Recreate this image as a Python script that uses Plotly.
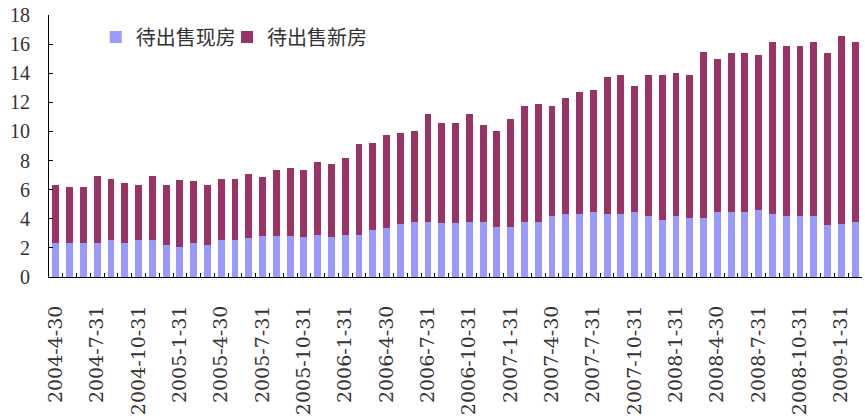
import plotly.graph_objects as go

categories = [
    "2004-4-30", "2004-5-31", "2004-6-30", "2004-7-31", "2004-8-31", "2004-9-30",
    "2004-10-31", "2004-11-30", "2004-12-31",
    "2005-1-31", "2005-2-28", "2005-3-31", "2005-4-30", "2005-5-31", "2005-6-30",
    "2005-7-31", "2005-8-31", "2005-9-30", "2005-10-31", "2005-11-30", "2005-12-31",
    "2006-1-31", "2006-2-28", "2006-3-31", "2006-4-30", "2006-5-31", "2006-6-30",
    "2006-7-31", "2006-8-31", "2006-9-30", "2006-10-31", "2006-11-30", "2006-12-31",
    "2007-1-31", "2007-2-28", "2007-3-31", "2007-4-30", "2007-5-31", "2007-6-30",
    "2007-7-31", "2007-8-31", "2007-9-30", "2007-10-31", "2007-11-30", "2007-12-31",
    "2008-1-31", "2008-2-29", "2008-3-31", "2008-4-30", "2008-5-31", "2008-6-30",
    "2008-7-31", "2008-8-31", "2008-9-30", "2008-10-31", "2008-11-30", "2008-12-31",
    "2009-1-31", "2009-2-28",
]

existing = [  # 待出售现房
    2.37, 2.37, 2.37, 2.37, 2.51, 2.37, 2.51, 2.51, 2.22, 2.08,
    2.37, 2.22, 2.51, 2.51, 2.65, 2.79, 2.79, 2.79, 2.78, 2.90,
    2.76, 2.90, 2.90, 3.24, 3.38, 3.66, 3.79, 3.79, 3.72, 3.72,
    3.79, 3.79, 3.45, 3.45, 3.79, 3.79, 4.20, 4.34, 4.34, 4.48,
    4.34, 4.34, 4.48, 4.20, 3.93, 4.20, 4.07, 4.07, 4.48, 4.48,
    4.48, 4.62, 4.34, 4.20, 4.20, 4.20, 3.59, 3.66, 3.79,
]

new = [  # 待出售新房
    3.96, 3.82, 3.82, 4.60, 4.23, 4.10, 3.82, 4.46, 4.11, 4.59,
    4.23, 4.11, 4.23, 4.23, 4.43, 4.08, 4.57, 4.71, 4.58, 5.01,
    5.01, 5.28, 6.24, 5.97, 6.38, 6.24, 6.25, 7.41, 6.86, 6.86,
    7.41, 6.65, 6.59, 7.41, 7.96, 8.10, 7.55, 7.95, 8.37, 8.37,
    9.40, 9.53, 8.64, 9.67, 9.94, 9.81, 9.80, 11.38, 10.49, 10.90,
    10.90, 10.62, 11.79, 11.66, 11.66, 11.93, 11.79, 12.88, 12.34,
]

series_names = ["待出售现房", "待出售新房"]
series_colors = ["#9999FF", "#993366"]
series_legends = ["legend", "legend2"]

y_ticks = [0, 2, 4, 6, 8, 10, 12, 14, 16, 18]
x_ticktext = [c if i % 3 == 0 else "" for i, c in enumerate(categories)]

fig = go.Figure()
for name, vals, col, lg in zip(series_names, [existing, new], series_colors, series_legends):
    fig.add_trace(go.Bar(x=categories, y=vals, name=name, legend=lg,
                         marker=dict(color=col, line=dict(width=0))))

x_font = dict(family="DejaVu Serif", size=19, color="#333333")
y_font = dict(family="Liberation Serif", size=20, color="#333333")
legend_font = dict(family="Noto Sans CJK SC", size=20, color="#333333")

fig.update_layout(
    width=865, height=419,
    barmode="stack", bargap=0.5,
    paper_bgcolor="white", plot_bgcolor="white",
    margin=dict(l=49, r=3, t=15, b=142, autoexpand=False),
    showlegend=True,
    legend=dict(
        orientation="h", x=0.0575, y=0.99, xanchor="left", yanchor="top",
        font=legend_font, bgcolor="rgba(0,0,0,0)",
    ),
    legend2=dict(
        orientation="h", x=0.2190, y=0.99, xanchor="left", yanchor="top",
        font=legend_font, bgcolor="rgba(0,0,0,0)",
    ),
    xaxis=dict(
        type="category", tickvals=categories, ticktext=x_ticktext,
        tickangle=-90, tickfont=x_font, showline=True, linecolor="black",
        linewidth=1, ticks="inside", ticklen=4, tickcolor="black",
        tickson="boundaries", showgrid=False, automargin=False,
        ticklabelstandoff=20, zeroline=False,
    ),
    yaxis=dict(
        range=[0, 18], tickvals=y_ticks, tickfont=y_font, showline=True,
        linecolor="black", linewidth=1, ticks="inside", ticklen=4,
        tickcolor="black", showgrid=False, zeroline=False, automargin=False,
        ticklabelstandoff=14,
    ),
)

fig.write_html("out.html", config={"displayModeBar": False},
               post_script="document.body.style.margin='0';")
